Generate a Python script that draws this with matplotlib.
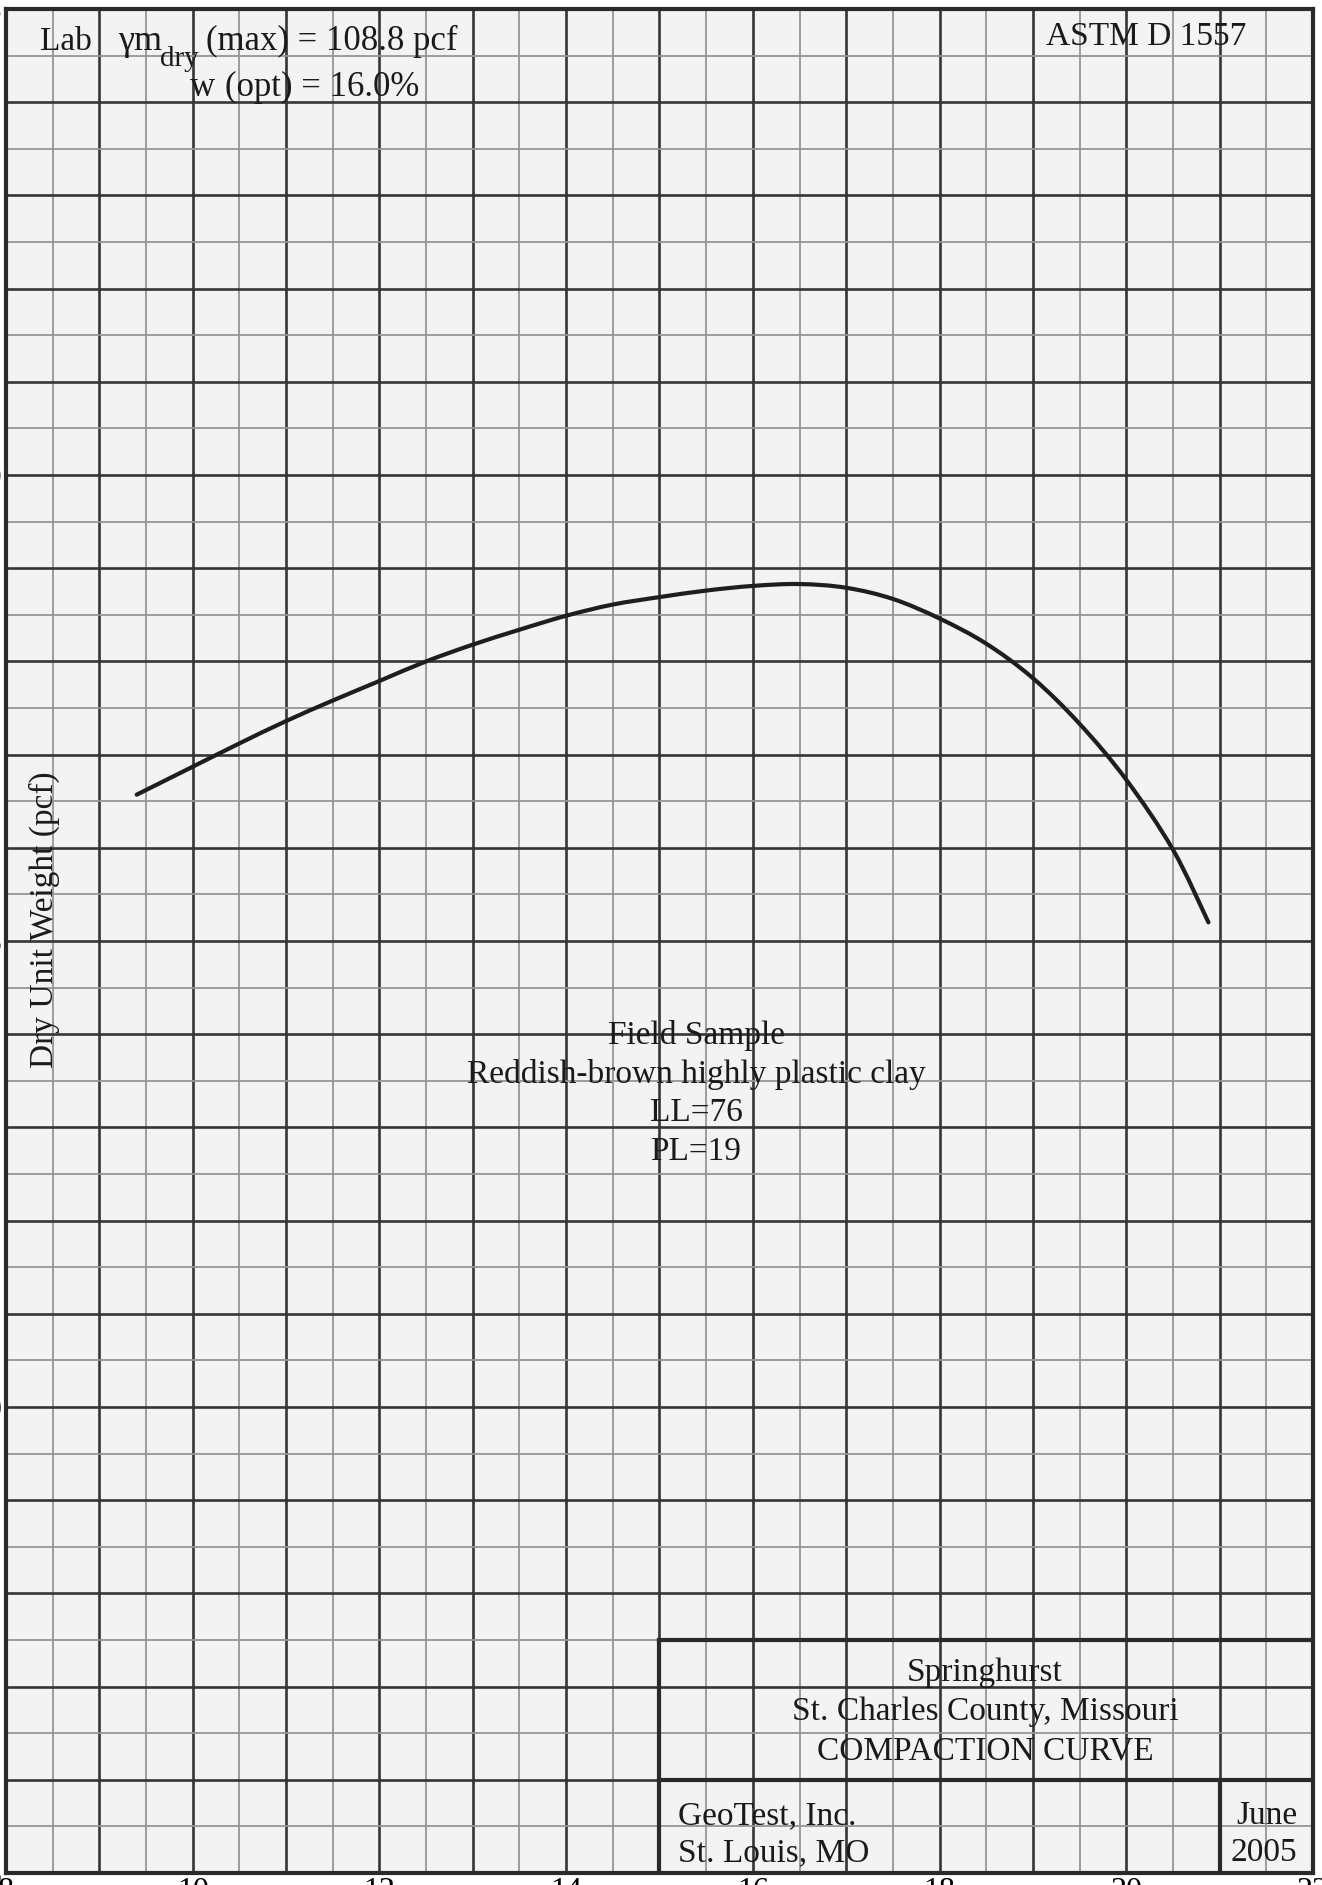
import matplotlib
matplotlib.use("Agg")
import matplotlib.pyplot as plt
from matplotlib.ticker import MultipleLocator, FuncFormatter
from matplotlib.path import Path
from matplotlib.patches import PathPatch

# ---- data ----
moisture = [9.40, 10.0, 10.5, 11.0, 11.5, 12.0, 12.5, 13.0, 13.5, 14.0, 14.5,
            15.0, 15.5, 16.0, 16.5, 17.0, 17.5, 18.0, 18.5, 19.0, 19.5, 20.0,
            20.5, 20.88]
dry_unit_weight = [106.57, 106.87, 107.12, 107.36, 107.58, 107.79, 108.00,
                   108.18, 108.34, 108.49, 108.61, 108.69, 108.76, 108.81,
                   108.83, 108.79, 108.67, 108.46, 108.19, 107.82, 107.33,
                   106.73, 105.98, 105.20]
x_label_values = [8, 10, 12, 14, 16, 18, 20, 22]
y_label_values = [95, 100, 105, 110, 115]
x_range = (8, 22)
y_range = (95, 115)

# title block (data coordinates of its frame)
block_left, block_split, block_top, block_mid = 15, 21, 97.5, 96

W, H = 1322, 1885
FONT = "Liberation Serif"
plt.rcParams["font.family"] = [FONT, "DejaVu Serif"]

fig = plt.figure(figsize=(W / 100, H / 100), dpi=100)
fig.patch.set_facecolor("white")
ax = fig.add_axes([6 / W, 12 / H, 1307 / W, 1864 / H])
ax.set_facecolor("#f3f3f3")
ax.set_xlim(*x_range)
ax.set_ylim(*y_range)

ax.xaxis.set_major_locator(MultipleLocator(1))
ax.xaxis.set_minor_locator(MultipleLocator(0.5))
ax.yaxis.set_major_locator(MultipleLocator(1))
ax.yaxis.set_minor_locator(MultipleLocator(0.5))
ax.xaxis.set_major_formatter(FuncFormatter(
    lambda v, p: f"{v:.0f}" if round(v) in x_label_values else ""))
ax.yaxis.set_major_formatter(FuncFormatter(
    lambda v, p: f"{v:.0f}" if round(v) in y_label_values else ""))
ax.tick_params(which="both", length=0)
ax.tick_params(axis="x", pad=3, labelsize=23)
ax.tick_params(axis="y", pad=3, labelsize=23)

ax.grid(which="minor", color="#959595", linewidth=1.3, zorder=1)
ax.grid(which="major", color="#353535", linewidth=1.9, zorder=1)
ax.set_axisbelow(True)
for s in ax.spines.values():
    s.set_linewidth(3.0)
    s.set_color("#2a2a2a")

# compaction curve: smooth Catmull-Rom style path through the read points
pts = list(zip(moisture, dry_unit_weight))
verts = [pts[0]]
codes = [Path.MOVETO]
n = len(pts)
for i in range(n - 1):
    p0 = pts[i - 1] if i > 0 else pts[i]
    p1 = pts[i]
    p2 = pts[i + 1]
    p3 = pts[i + 2] if i + 2 < n else pts[i + 1]
    c1 = (p1[0] + (p2[0] - p0[0]) / 6, p1[1] + (p2[1] - p0[1]) / 6)
    c2 = (p2[0] - (p3[0] - p1[0]) / 6, p2[1] - (p3[1] - p1[1]) / 6)
    verts += [c1, c2, p2]
    codes += [Path.CURVE4] * 3
curve = PathPatch(Path(verts, codes), fill=False, edgecolor="#1e1e1e",
                  linewidth=3.0, capstyle="round", joinstyle="round", zorder=3)
ax.add_patch(curve)

# title block frame
lw_box = 3.0
ax.plot([block_left, block_left], [y_range[0], block_top], color="#2a2a2a", lw=lw_box, zorder=2)
ax.plot([block_left, x_range[1]], [block_top, block_top], color="#2a2a2a", lw=lw_box, zorder=2)
ax.plot([block_left, x_range[1]], [block_mid, block_mid], color="#2a2a2a", lw=lw_box, zorder=2)
ax.plot([block_split, block_split], [y_range[0], block_mid], color="#2a2a2a", lw=lw_box, zorder=2)


def P(x, y):
    return x / W, 1 - y / H


tc = "#1a1a1a"
# top-left annotation
fig.text(*P(40, 50), "Lab", fontsize=24, va="baseline", ha="left", color=tc)
fig.text(*P(118, 50), "γm", fontsize=26, va="baseline", ha="left", color=tc)
fig.text(*P(160, 66), "dry", fontsize=21, va="baseline", ha="left", color=tc)
fig.text(*P(206, 50), "(max) = 108.8 pcf", fontsize=25, va="baseline", ha="left", color=tc)
fig.text(*P(190, 96), "w", fontsize=25, va="baseline", ha="left", color=tc)
fig.text(*P(225, 96), "(opt) = 16.0%", fontsize=25, va="baseline", ha="left", color=tc)

fig.text(*P(1046, 37), "ASTM D 1557", fontsize=24, va="center", ha="left", color=tc)

# y-axis title
fig.text(*P(44, 920), "Dry Unit Weight (pcf)", fontsize=24, rotation=90,
         va="center", ha="center", color=tc)

# sample description
for txt, yy in [("Field Sample", 1035),
                ("Reddish-brown highly plastic clay", 1074),
                ("LL=76", 1113),
                ("PL=19", 1152)]:
    fig.text(*P(696, yy), txt, fontsize=24, va="center", ha="center", color=tc)

# title block text
for txt, yy in [("Springhurst", 1673),
                ("St. Charles County, Missouri", 1712),
                ("COMPACTION CURVE", 1751)]:
    fig.text(*P(985, yy), txt, fontsize=24, va="center", ha="center", color=tc)
fig.text(*P(678, 1816), "GeoTest, Inc.", fontsize=24, va="center", ha="left", color=tc)
fig.text(*P(678, 1853), "St. Louis, MO", fontsize=24, va="center", ha="left", color=tc)
fig.text(*P(1297, 1816), "June", fontsize=24, va="center", ha="right", color=tc)
fig.text(*P(1297, 1853), "2005", fontsize=24, va="center", ha="right", color=tc)

fig.savefig("out.png", dpi=100)
